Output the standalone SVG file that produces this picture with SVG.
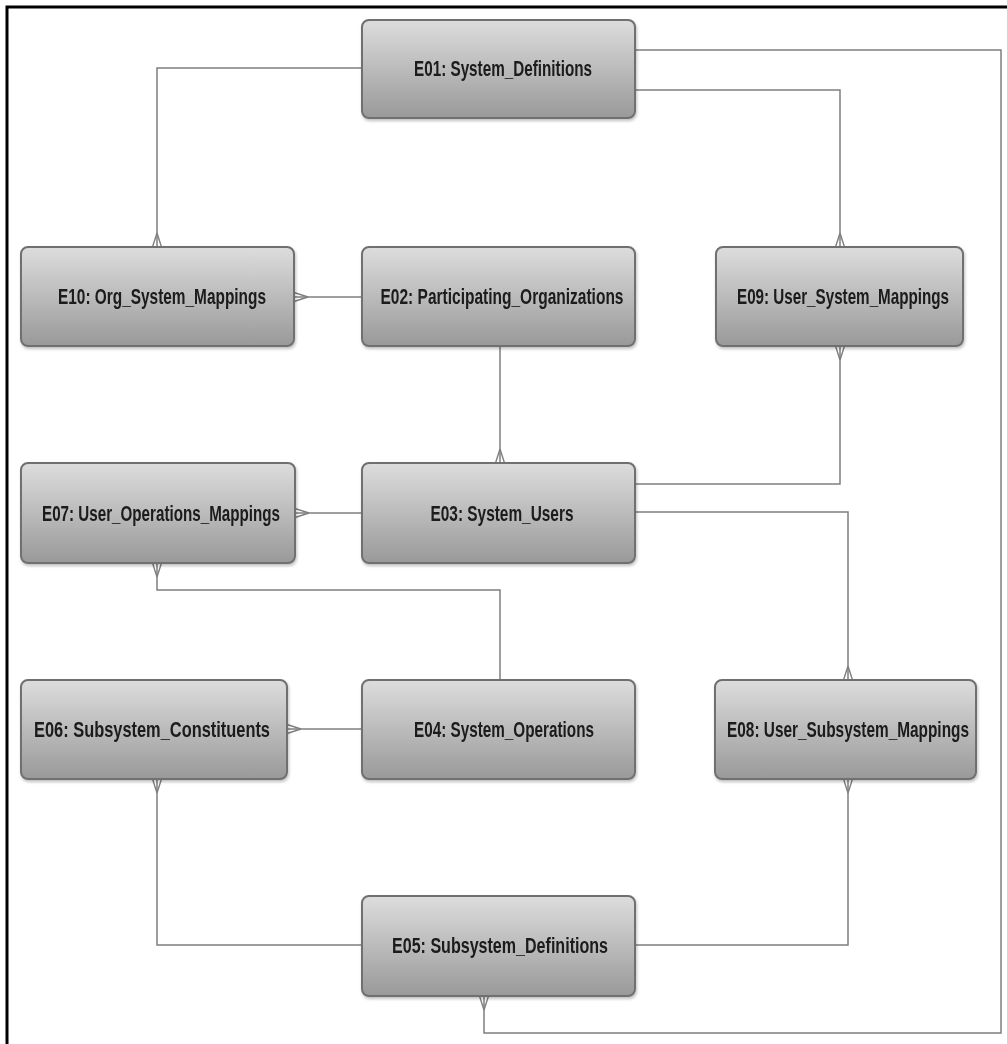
<svg xmlns="http://www.w3.org/2000/svg" width="1007" height="1044" viewBox="0 0 1007 1044">
<style>
.box{fill:url(#g);stroke:#707070;stroke-width:2}
.lbl{font-family:"Liberation Sans",Arial,sans-serif;font-size:22.5px;font-weight:bold;fill:#1a1a1a;text-anchor:middle}
.c{fill:none;stroke:#7f7f7f;stroke-width:1.5;marker-end:url(#crow)}
</style>
<defs>
<linearGradient id="g" x1="0" y1="0" x2="0" y2="1">
<stop offset="0" stop-color="#dddddd"/>
<stop offset="1" stop-color="#999999"/>
</linearGradient>
<marker id="crow" viewBox="0 -6 16 12" markerWidth="16" markerHeight="12" refX="15" refY="0" orient="auto" markerUnits="userSpaceOnUse">
<path d="M1,0 L15,-4.5 M1,0 L15,4.5" fill="none" stroke="#7f7f7f" stroke-width="1.4"/>
</marker>
<filter id="sh" x="-5%" y="-5%" width="110%" height="115%">
<feDropShadow dx="1" dy="2" stdDeviation="1.5" flood-color="#000" flood-opacity="0.25"/>
</filter>
</defs>
<rect width="1007" height="1044" fill="#fff"/>
<path d="M7,1044 L7,7 L1007,7" fill="none" stroke="#000" stroke-width="3"/>
<g id="connectors">
<path class="c" d="M362,68 H157 V247"/>
<path class="c" d="M635,50 H1001 V1033 H484 V996"/>
<path class="c" d="M635,90 H840 V247"/>
<path class="c" d="M362,297 H294"/>
<path class="c" d="M500,346 V463"/>
<path class="c" d="M635,484 H840 V346"/>
<path class="c" d="M635,512 H848 V680"/>
<path class="c" d="M362,513 H295"/>
<path class="c" d="M500,680 V590 H157 V563"/>
<path class="c" d="M362,729 H287"/>
<path class="c" d="M362,945 H157 V779"/>
<path class="c" d="M635,945 H848 V779"/>
</g>
<g id="E01" filter="url(#sh)"><rect class="box" x="362" y="20" width="273" height="98" rx="7"/><text class="lbl" x="503" y="76" textLength="178" lengthAdjust="spacingAndGlyphs">E01: System_Definitions</text></g>
<g id="E10" filter="url(#sh)"><rect class="box" x="21" y="247" width="273" height="99" rx="7"/><text class="lbl" x="162" y="304" textLength="208" lengthAdjust="spacingAndGlyphs">E10: Org_System_Mappings</text></g>
<g id="E02" filter="url(#sh)"><rect class="box" x="362" y="247" width="273" height="99" rx="7"/><text class="lbl" x="502" y="304" textLength="243" lengthAdjust="spacingAndGlyphs">E02: Participating_Organizations</text></g>
<g id="E09" filter="url(#sh)"><rect class="box" x="716" y="247" width="247" height="99" rx="7"/><text class="lbl" x="843" y="304" textLength="212" lengthAdjust="spacingAndGlyphs">E09: User_System_Mappings</text></g>
<g id="E07" filter="url(#sh)"><rect class="box" x="21" y="463" width="274" height="100" rx="7"/><text class="lbl" x="161" y="521" textLength="238" lengthAdjust="spacingAndGlyphs">E07: User_Operations_Mappings</text></g>
<g id="E03" filter="url(#sh)"><rect class="box" x="362" y="463" width="273" height="100" rx="7"/><text class="lbl" x="502" y="521" textLength="143" lengthAdjust="spacingAndGlyphs">E03: System_Users</text></g>
<g id="E06" filter="url(#sh)"><rect class="box" x="21" y="680" width="266" height="99" rx="7"/><text class="lbl" x="152" y="737" textLength="236" lengthAdjust="spacingAndGlyphs">E06: Subsystem_Constituents</text></g>
<g id="E04" filter="url(#sh)"><rect class="box" x="362" y="680" width="273" height="99" rx="7"/><text class="lbl" x="504" y="737" textLength="180" lengthAdjust="spacingAndGlyphs">E04: System_Operations</text></g>
<g id="E08" filter="url(#sh)"><rect class="box" x="715" y="680" width="261" height="99" rx="7"/><text class="lbl" x="848" y="737" textLength="242" lengthAdjust="spacingAndGlyphs">E08: User_Subsystem_Mappings</text></g>
<g id="E05" filter="url(#sh)"><rect class="box" x="362" y="896" width="273" height="100" rx="7"/><text class="lbl" x="500" y="953" textLength="216" lengthAdjust="spacingAndGlyphs">E05: Subsystem_Definitions</text></g>
</svg>
